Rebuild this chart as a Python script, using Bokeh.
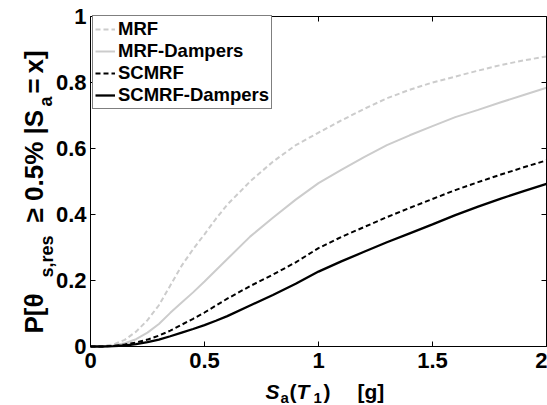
from math import pi
from bokeh.plotting import figure
from bokeh.models import Range1d, LinearAxis, FixedTicker, Label
from bokeh.embed import file_html
from bokeh.resources import INLINE

# ---------------- data ----------------
sa = [0.0, 0.05, 0.1, 0.15, 0.2, 0.25, 0.3, 0.35, 0.4, 0.45, 0.5, 0.55, 0.6,
      0.7, 0.8, 0.9, 1.0, 1.1, 1.2, 1.3, 1.4, 1.5, 1.6, 1.7, 1.8, 1.9, 2.0]
mrf = [0.0, 0.0005, 0.006, 0.02, 0.045, 0.08, 0.125, 0.185, 0.245, 0.295, 0.34, 0.387, 0.43,
       0.50, 0.56, 0.61, 0.648, 0.685, 0.72, 0.752, 0.778, 0.80, 0.818, 0.836, 0.853, 0.867, 0.879]
mrf_dampers = [0.0, 0.0002, 0.003, 0.01, 0.022, 0.042, 0.068, 0.102, 0.133, 0.164, 0.197, 0.231, 0.265,
               0.333, 0.39, 0.445, 0.495, 0.535, 0.574, 0.61, 0.64, 0.668, 0.695, 0.717, 0.74, 0.762, 0.784]
scmrf = [0.0, 0.0, 0.002, 0.006, 0.012, 0.021, 0.033, 0.048, 0.066, 0.084, 0.103, 0.124, 0.145,
         0.183, 0.218, 0.255, 0.298, 0.332, 0.362, 0.392, 0.42, 0.447, 0.474, 0.498, 0.521, 0.543, 0.564]
scmrf_dampers = [0.0, 0.0, 0.001, 0.003, 0.007, 0.013, 0.021, 0.031, 0.042, 0.053, 0.065, 0.078, 0.092,
                 0.124, 0.156, 0.19, 0.227, 0.258, 0.287, 0.316, 0.343, 0.37, 0.398, 0.424, 0.448, 0.471, 0.493]
series_names = ["MRF", "MRF-Dampers", "SCMRF", "SCMRF-Dampers"]

x_ticks = [0, 0.5, 1, 1.5, 2]
x_tick_labels = ["0", "0.5", "1", "1.5", "2"]
y_ticks = [0, 0.2, 0.4, 0.6, 0.8, 1]
y_tick_labels = ["0", "0.2", "0.4", "0.6", "0.8", "1"]
X0, X1 = 0, 2
Y0, Y1 = 0, 1

# ---------------- figure ----------------
# The frame covers the whole canvas; the axes are pinned (fixed_location) to
# the data box so that the axis titles can be drawn anywhere on the canvas.
FONT = "Liberation Sans"
W, H = 547, 405
BL, BR, BT, BB = 90, 546, 16, 346   # data box edges in canvas pixels
kx = (X1 - X0) / (BR - BL)
ky = (Y1 - Y0) / (BB - BT)
p = figure(width=W, height=H, output_backend="svg", toolbar_location=None,
           x_range=Range1d(X0 - BL * kx, X1 + (W - BR) * kx),
           y_range=Range1d(Y0 - (H - BB) * ky, Y1 + BT * ky),
           x_axis_location=None, y_axis_location=None,
           min_border=0, min_border_left=0, min_border_right=0,
           min_border_top=0, min_border_bottom=0)
p.xgrid.visible = False
p.ygrid.visible = False
p.background_fill_color = "white"
p.border_fill_color = "white"
p.outline_line_color = None

def make_axis(ticks, labels, loc, bounds, show_labels=True, standoff=4):
    ax = LinearAxis(fixed_location=loc, bounds=bounds)
    ax.ticker = FixedTicker(ticks=ticks)
    ax.minor_tick_line_color = None
    ax.major_tick_in = 5
    ax.major_tick_out = 0
    ax.major_tick_line_color = "black"
    ax.axis_line_color = "black"
    ax.axis_line_width = 1
    ax.axis_label = None
    if show_labels:
        ax.major_label_overrides = {t: l for t, l in zip(ticks, labels)}
        ax.major_label_standoff = standoff
        ax.major_label_text_font = FONT
        ax.major_label_text_font_style = "bold"
        ax.major_label_text_font_size = "22px"
        ax.major_label_text_color = "black"
    else:
        ax.major_label_standoff = 0
        ax.major_label_text_color = None
    return ax

p.add_layout(make_axis(x_ticks, x_tick_labels, Y0, (X0, X1), standoff=6), "below")
p.add_layout(make_axis(y_ticks, y_tick_labels, X0, (Y0, Y1), standoff=4), "left")
p.add_layout(make_axis(x_ticks, x_tick_labels, Y1, (X0, X1), show_labels=False), "above")
p.add_layout(make_axis(y_ticks, y_tick_labels, X1, (Y0, Y1), show_labels=False), "right")

# ---------------- curves ----------------
GRAY = "#cccccc"
p.line(sa, mrf, line_color=GRAY, line_width=2, line_dash="5 3", legend_label=series_names[0])
p.line(sa, mrf_dampers, line_color=GRAY, line_width=2, legend_label=series_names[1])
p.line(sa, scmrf, line_color="black", line_width=2, line_dash="5 3", legend_label=series_names[2])
p.line(sa, scmrf_dampers, line_color="black", line_width=2.3, legend_label=series_names[3])

lg = p.legend[0]
lg.location = (92, H - 109)      # bottom-left corner of the legend box
lg.margin = 0
lg.padding = 2
lg.spacing = 0
lg.glyph_width = 20
lg.glyph_height = 20
lg.label_height = 20
lg.label_standoff = 3
lg.label_text_font = FONT
lg.label_text_font_style = "bold"
lg.label_text_font_size = "18.5px"
lg.label_text_color = "black"
lg.border_line_color = "black"
lg.border_line_width = 1
lg.background_fill_color = "white"
lg.background_fill_alpha = 1

# ---------------- axis titles (with sub-scripts) ----------------
def lab(text, px, py, size, style="bold", angle=0):
    p.add_layout(Label(x=px, y=H - py, x_units="screen", y_units="screen",
                       text=text, angle=angle,
                       text_font=FONT, text_font_style=style,
                       text_font_size=f"{size}px", text_color="black",
                       text_align="left", text_baseline="alphabetic"))

# x axis title: S_a(T_1) [g]
lab("S", 265, 391, 21, "bold italic")
lab("a", 280, 397, 15)
lab("(", 289, 391, 21)
lab("T", 296, 391, 21, "bold italic")
lab("1", 313, 397, 15)
lab(")", 323, 391, 21)
lab("[g]", 357, 391, 21)

# y axis title: P[θ_s,res ≥ 0.5% |S_a = x]
lab("P[θ", 33, 333, 26, angle=pi / 2)
lab("s,res", 46, 277, 18, angle=pi / 2)
lab("≥ 0.5% |S", 33, 222, 26, angle=pi / 2)
lab("a", 45, 106, 18, angle=pi / 2)
lab("=", 33, 93, 26, angle=pi / 2)
lab("x]", 33, 73, 26, angle=pi / 2)

open("out.html", "w").write(file_html(p, INLINE))
